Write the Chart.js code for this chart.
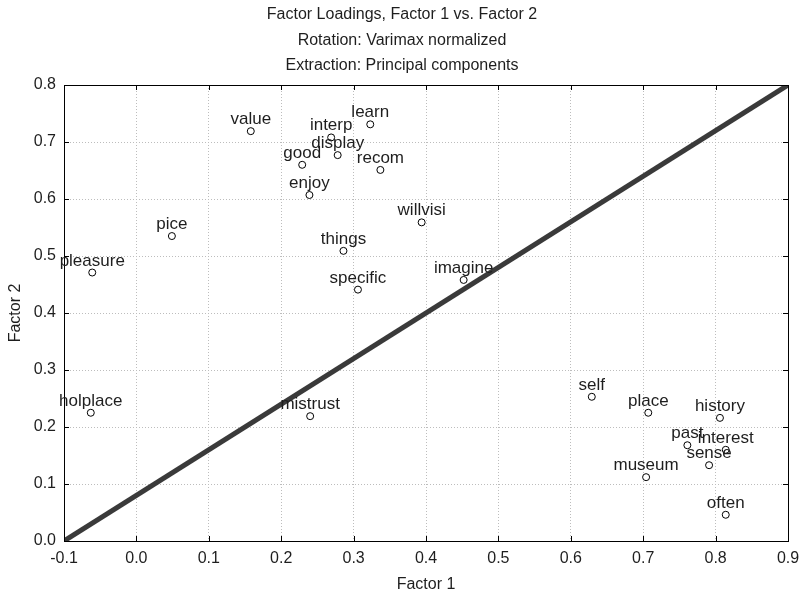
<!DOCTYPE html>
<html lang="en">
<head>
  <meta charset="UTF-8">
  <title>Factor Loadings, Factor 1 vs. Factor 2</title>
  <script src="https://cdn.jsdelivr.net/npm/chart.js"></script>
  <style>
    html, body { margin: 0; padding: 0; background: #fff; }
    #wrap { width: 802px; height: 595px; position: relative; }
  </style>
</head>
<body>
  <div id="wrap"><canvas id="chart"></canvas></div>

  <script>
    // variabel dan loading faktor
    const varNames = ['value', 'learn', 'interp', 'display', 'good', 'recom', 'enjoy', 'willvisi',
      'pice', 'things', 'pleasure', 'specific', 'imagine', 'self', 'place', 'history', 'past',
      'interest', 'sense', 'museum', 'often', 'holplace', 'mistrust'];
    const factor1 = [0.158, 0.323, 0.269, 0.278, 0.229, 0.337, 0.239, 0.394,
      0.049, 0.286, -0.061, 0.306, 0.452, 0.629, 0.707, 0.806, 0.761,
      0.814, 0.791, 0.704, 0.814, -0.063, 0.240];
    const factor2 = [0.719, 0.731, 0.708, 0.677, 0.660, 0.651, 0.607, 0.559,
      0.535, 0.509, 0.471, 0.441, 0.458, 0.253, 0.225, 0.216, 0.168,
      0.160, 0.133, 0.112, 0.046, 0.225, 0.219];

    // garis diagonal
    const diagX = [-0.1, 0.9];
    const diagY = [0.0, 0.8];

    // tick
    const xTicks = [-0.1, 0.0, 0.1, 0.2, 0.3, 0.4, 0.5, 0.6, 0.7, 0.8, 0.9];
    const yTicks = [0.0, 0.1, 0.2, 0.3, 0.4, 0.5, 0.6, 0.7, 0.8];

    const titleLines = ['Factor Loadings, Factor 1 vs. Factor 2',
      'Rotation: Varimax normalized',
      'Extraction: Principal components'];

    const FONT = '"Liberation Sans", Arial, sans-serif';
    const TEXT = '#1e1e1e';
    Chart.defaults.font.family = FONT;
    Chart.defaults.font.size = 16;
    Chart.defaults.color = TEXT;

    // judul, bingkai, tick ke dalam, label titik
    const decor = {
      id: 'decor',
      afterDraw(chart) {
        const { ctx, chartArea: a, scales } = chart;
        ctx.save();
        // judul
        ctx.fillStyle = TEXT;
        ctx.font = '16px ' + FONT;
        ctx.textAlign = 'center';
        ctx.textBaseline = 'middle';
        titleLines.forEach((t, i) => ctx.fillText(t, 402, 15 + i * 25.5));

        // bingkai
        ctx.strokeStyle = '#000';
        ctx.lineWidth = 1;
        ctx.strokeRect(Math.round(a.left) + 0.5, Math.round(a.top) + 0.5,
          Math.round(a.right - a.left), Math.round(a.bottom - a.top));

        // tick ke dalam
        ctx.beginPath();
        scales.x.ticks.forEach(t => {
          const px = Math.round(scales.x.getPixelForValue(t.value)) + 0.5;
          ctx.moveTo(px, a.bottom); ctx.lineTo(px, a.bottom - 5);
          ctx.moveTo(px, a.top); ctx.lineTo(px, a.top + 5);
        });
        scales.y.ticks.forEach(t => {
          const py = Math.round(scales.y.getPixelForValue(t.value)) + 0.5;
          ctx.moveTo(a.left, py); ctx.lineTo(a.left + 5, py);
          ctx.moveTo(a.right, py); ctx.lineTo(a.right - 5, py);
        });
        ctx.stroke();

        // label titik
        const meta = chart.getDatasetMeta(1);
        ctx.fillStyle = TEXT;
        ctx.font = '17px ' + FONT;
        ctx.textBaseline = 'alphabetic';
        meta.data.forEach((pt, i) => {
          ctx.fillText(varNames[i], pt.x, pt.y - 7);
        });
        ctx.restore();
      }
    };

    const ctx = document.getElementById('chart').getContext('2d');
    new Chart(ctx, {
      data: {
        datasets: [
          {
            type: 'line',
            data: diagX.map((x, i) => ({ x, y: diagY[i] })),
            borderColor: '#3a3a3a',
            borderWidth: 5,
            pointRadius: 0,
            fill: false,
            order: 1
          },
          {
            type: 'scatter',
            data: factor1.map((x, i) => ({ x, y: factor2[i] })),
            pointStyle: 'circle',
            pointRadius: 3.5,
            borderWidth: 1,
            borderColor: '#000',
            backgroundColor: '#fff',
            order: 0
          }
        ]
      },
      options: {
        responsive: true,
        maintainAspectRatio: false,
        animation: false,
        events: [],
        layout: { padding: { top: 85, right: 14, bottom: 0, left: 0 } },
        plugins: {
          legend: { display: false },
          tooltip: { enabled: false }
        },
        scales: {
          x: {
            type: 'linear',
            min: -0.1,
            max: 0.9,
            afterBuildTicks: s => { s.ticks = xTicks.map(v => ({ value: v })); },
            afterFit: s => { s.height = 54; s.paddingLeft = 0; s.paddingRight = 0; },
            ticks: {
              padding: 8,
              callback: v => (Math.abs(v) < 1e-9 ? 0 : v).toFixed(1)
            },
            grid: { color: '#bdbdbd', drawTicks: false },
            border: { display: false, dash: [1, 2] },
            title: { display: true, text: 'Factor 1', padding: { top: 0, bottom: 1 } }
          },
          y: {
            type: 'linear',
            min: 0,
            max: 0.8,
            afterBuildTicks: s => { s.ticks = yTicks.map(v => ({ value: v })); },
            afterFit: s => { s.width = 64; s.paddingTop = 0; s.paddingBottom = 0; },
            ticks: {
              padding: 8,
              callback: v => (Math.abs(v) < 1e-9 ? 0 : v).toFixed(1)
            },
            grid: { color: '#bdbdbd', drawTicks: false },
            border: { display: false, dash: [1, 2] },
            title: { display: true, text: 'Factor 2', padding: { top: 6, bottom: 0 } }
          }
        }
      },
      plugins: [decor]
    });
  </script>
</body>
</html>
